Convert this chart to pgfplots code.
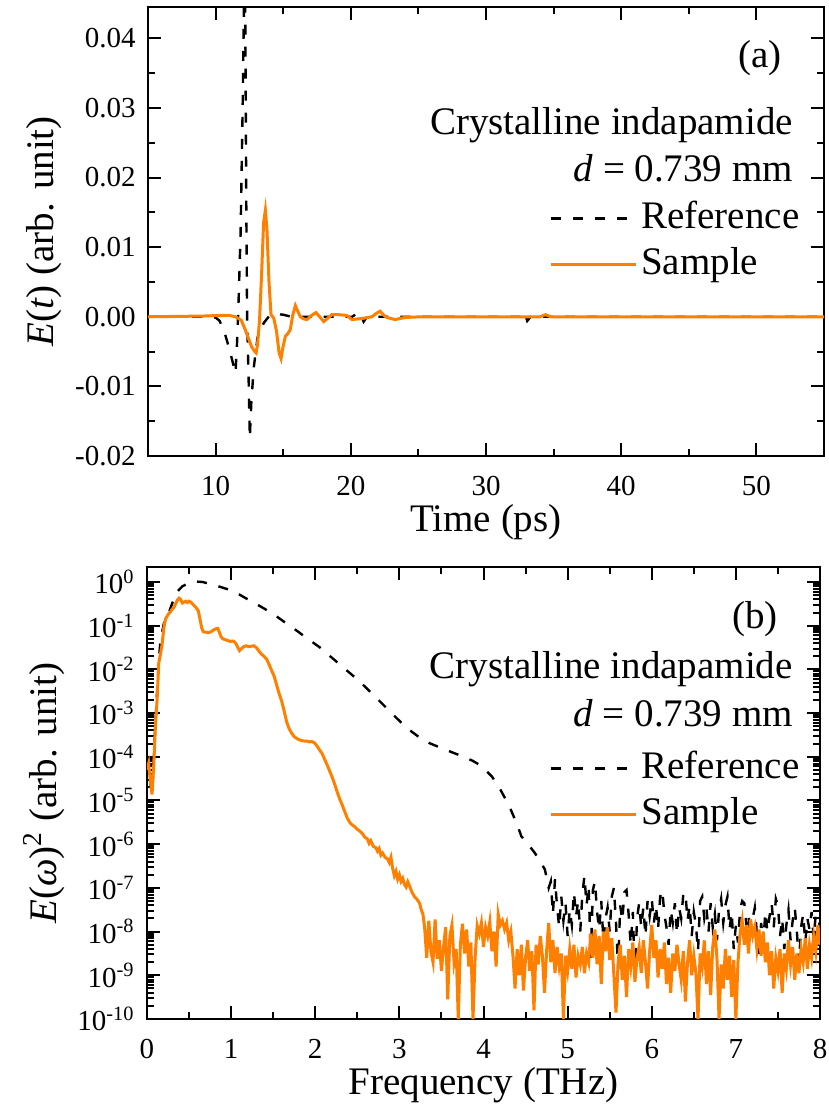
\documentclass[border=0pt]{standalone}
\usepackage{fontspec}
\setmainfont{Liberation Serif}
\usepackage{pgfplots}
\usepackage{pgfplotstable}
\pgfplotsset{compat=1.18}
\definecolor{smporange}{HTML}{FF7F00}

\newcommand{\tickfont}{\fontsize{14.5}{17}\selectfont}
\newcommand{\labfont}{\fontsize{19.5}{23}\selectfont}

% time domain (ps, arb. unit)
\pgfplotstableread{
t E
5.0 0
9.5 0
10.0 -0.0001
10.3 -0.0006
10.7 -0.0025
11.0 -0.0045
11.3 -0.0068
11.47 -0.0081
11.58 -0.0040
11.68 0.0010
11.85 0.0120
12.0 0.0300
12.12 0.0480
12.17 0.0520
12.27 0.0162
12.33 0.0000
12.45 -0.0096
12.53 -0.0174
12.65 -0.0120
12.83 -0.0072
13.1 -0.0030
13.56 -0.0009
14.0 0.0002
14.35 0.0004
15.0 0.0003
15.6 0.0000
20.1 0.0000
20.4 0.0004
20.6 0.0008
20.75 0.0002
20.95 -0.0007
21.2 0.0000
32.6 0.0000
32.85 0.0007
33.05 -0.0006
33.3 0.0000
55.0 0.0000
}\reftime

\pgfplotstableread{
t E
5.0 0
9.0 0.0001
10.5 0.0002
11.0 0.0002
11.47 0.0000
11.9 -0.0005
12.2 -0.0019
12.66 -0.0043
12.9 -0.0050
13.0 -0.0052
13.1 -0.0040
13.25 -0.0005
13.4 0.0060
13.55 0.0135
13.68 0.0153
13.8 0.0125
13.95 0.0050
14.1 0.0003
14.3 -0.0002
14.5 -0.0020
14.7 -0.0052
14.84 -0.0060
14.97 -0.0045
15.16 -0.0028
15.35 -0.0024
15.53 -0.0018
15.7 0.0002
15.9 0.0016
16.05 0.0009
16.27 0.0000
16.5 -0.0003
16.76 -0.0004
17.1 0.0002
17.42 0.0006
17.7 0.0000
18.0 -0.0007
18.3 -0.0002
18.6 0.0003
19.1 0.0003
19.7 0.0002
20.08 -0.0004
20.57 -0.0003
21.0 -0.0002
21.55 0.0000
21.9 0.0005
22.17 0.0008
22.4 0.0003
22.66 -0.0001
23.28 -0.0004
24.0 -0.0001
25.2 0.0000
34.0 0.0000
34.4 0.0003
34.8 0.0000
55.0 0.0000
}\smptime

% power spectra: f (THz), lg = log10 E(w)^2
\pgfplotstableread{
f lg
0.00 -4.35
0.02 -4.20
0.04 -4.60
0.06 -4.85
0.08 -4.10
0.10 -3.20
0.12 -2.50
0.14 -1.80
0.16 -1.35
0.20 -0.95
0.26 -0.70
0.32 -0.38
0.36 -0.22
0.42 -0.10
0.50 -0.02
0.58 0.01
0.66 0.00
0.72 -0.03
0.80 -0.07
0.90 -0.13
0.98 -0.18
1.10 -0.29
1.21 -0.41
1.35 -0.56
1.49 -0.72
1.63 -0.91
1.77 -1.10
1.91 -1.30
2.05 -1.49
2.19 -1.72
2.33 -1.95
2.47 -2.18
2.60 -2.41
2.72 -2.64
2.84 -2.87
2.96 -3.10
3.08 -3.33
3.22 -3.53
3.36 -3.69
3.50 -3.80
3.63 -3.90
3.75 -3.99
3.87 -4.09
3.95 -4.18
4.01 -4.28
4.10 -4.45
4.20 -4.75
4.30 -5.10
4.40 -5.55
4.45 -5.82
4.53 -6.00
4.61 -6.20
4.67 -6.38
4.73 -6.58
4.775 -7.00
4.800 -6.85
4.825 -7.60
4.850 -6.80
4.875 -7.45
4.900 -7.90
4.925 -7.20
4.950 -7.75
4.975 -7.35
5.000 -8.10
5.025 -7.50
5.050 -7.85
5.075 -7.10
5.100 -7.65
5.125 -7.30
5.150 -8.00
5.175 -7.15
5.200 -6.72
5.225 -7.40
5.250 -6.95
5.275 -8.60
5.300 -7.05
5.325 -6.85
5.350 -7.55
5.375 -7.95
5.400 -7.30
5.425 -8.20
5.450 -7.70
5.475 -7.45
5.500 -8.00
5.525 -7.20
5.550 -7.00
5.575 -7.80
5.600 -8.85
5.625 -7.40
5.650 -7.75
5.675 -7.10
5.700 -7.05
5.725 -7.60
5.750 -8.30
5.775 -7.55
5.800 -9.05
5.825 -7.70
5.850 -7.35
5.875 -7.90
5.900 -7.45
5.925 -8.10
5.950 -7.30
5.975 -7.65
6.000 -7.25
6.025 -7.80
6.050 -7.40
6.075 -7.95
6.100 -7.20
6.125 -7.05
6.150 -7.60
6.175 -7.90
6.200 -8.30
6.225 -7.50
6.250 -7.80
6.275 -7.35
6.300 -8.05
6.325 -7.45
6.350 -7.70
6.375 -7.15
6.400 -7.10
6.425 -7.75
6.450 -7.40
6.475 -8.10
6.500 -7.55
6.525 -7.85
6.550 -8.45
6.575 -7.30
6.600 -7.20
6.625 -7.70
6.650 -7.45
6.675 -8.00
6.700 -7.35
6.725 -7.90
6.750 -7.60
6.775 -8.20
6.800 -7.50
6.825 -7.25
6.850 -7.80
6.875 -7.40
6.900 -7.20
6.925 -7.95
6.950 -7.55
6.975 -8.40
7.000 -7.85
7.025 -8.25
7.050 -7.50
7.075 -7.30
7.100 -7.35
7.125 -7.85
7.150 -7.60
7.175 -8.15
7.200 -7.70
7.225 -7.45
7.250 -8.05
7.275 -8.60
7.300 -7.80
7.325 -8.30
7.350 -7.55
7.375 -8.00
7.400 -7.65
7.425 -7.35
7.450 -7.90
7.475 -7.25
7.500 -7.40
7.525 -8.10
7.550 -7.70
7.575 -8.40
7.600 -7.85
7.625 -7.50
7.650 -8.20
7.675 -7.75
7.700 -7.45
7.725 -8.00
7.750 -8.70
7.775 -7.90
7.800 -7.60
7.825 -8.25
7.850 -7.70
7.875 -7.95
7.900 -7.55
7.925 -8.15
7.950 -7.60
7.975 -7.65
8.000 -7.90
}\reffreq

\pgfplotstableread{
f lg
0.00 -4.30
0.02 -4.15
0.04 -4.55
0.06 -4.86
0.08 -4.20
0.10 -3.30
0.12 -2.70
0.14 -1.85
0.16 -1.65
0.18 -1.42
0.20 -1.05
0.22 -0.85
0.24 -0.78
0.26 -0.72
0.28 -0.68
0.30 -0.62
0.32 -0.58
0.34 -0.50
0.36 -0.42
0.38 -0.37
0.40 -0.40
0.42 -0.48
0.44 -0.46
0.46 -0.44
0.48 -0.47
0.50 -0.44
0.52 -0.46
0.55 -0.52
0.58 -0.58
0.61 -0.66
0.63 -0.85
0.65 -1.05
0.67 -1.14
0.70 -1.15
0.73 -1.16
0.76 -1.14
0.79 -1.10
0.82 -1.07
0.84 -1.06
0.86 -1.15
0.88 -1.25
0.90 -1.30
0.93 -1.32
0.96 -1.34
0.99 -1.36
1.02 -1.35
1.04 -1.37
1.06 -1.42
1.08 -1.50
1.10 -1.57
1.12 -1.53
1.15 -1.48
1.18 -1.46
1.21 -1.48
1.24 -1.47
1.27 -1.46
1.30 -1.50
1.33 -1.58
1.36 -1.65
1.39 -1.70
1.42 -1.76
1.45 -1.88
1.48 -2.02
1.51 -2.15
1.54 -2.35
1.57 -2.55
1.60 -2.72
1.63 -2.95
1.66 -3.20
1.69 -3.36
1.72 -3.46
1.75 -3.54
1.78 -3.58
1.81 -3.61
1.84 -3.63
1.87 -3.64
1.90 -3.64
1.93 -3.66
1.96 -3.65
1.99 -3.68
2.02 -3.75
2.05 -3.84
2.08 -3.92
2.11 -4.05
2.14 -4.18
2.17 -4.32
2.20 -4.46
2.23 -4.62
2.26 -4.80
2.29 -4.96
2.32 -5.10
2.35 -5.25
2.38 -5.40
2.41 -5.50
2.44 -5.56
2.47 -5.60
2.50 -5.66
2.53 -5.70
2.56 -5.76
2.59 -5.84
2.62 -5.88
2.64 -5.98
2.66 -5.92
2.69 -6.05
2.72 -6.08
2.74 -6.16
2.76 -6.10
2.78 -6.25
2.80 -6.20
2.83 -6.30
2.86 -6.34
2.88 -6.42
2.90 -6.30
2.92 -6.55
2.94 -6.72
2.96 -6.62
2.98 -6.80
3.00 -6.70
3.02 -6.85
3.04 -6.78
3.06 -6.92
3.08 -6.98
3.10 -6.86
3.12 -6.95
3.15 -7.10
3.18 -7.20
3.21 -7.26
3.24 -7.35
3.26 -7.50
3.28 -7.60
3.300 -7.90
3.325 -8.60
3.350 -7.75
3.375 -8.45
3.400 -8.70
3.425 -7.72
3.450 -8.62
3.475 -8.20
3.500 -8.90
3.525 -8.35
3.550 -7.90
3.575 -9.55
3.600 -8.10
3.625 -7.85
3.650 -8.70
3.675 -8.40
3.700 -10.0
3.725 -8.30
3.750 -7.82
3.775 -8.50
3.800 -7.95
3.825 -8.80
3.850 -8.25
3.875 -10.0
3.900 -8.60
3.925 -7.86
3.950 -8.05
3.975 -7.80
4.000 -8.35
4.025 -7.90
4.050 -8.10
4.075 -7.78
4.100 -8.45
4.125 -8.00
4.150 -8.80
4.175 -7.60
4.200 -7.85
4.225 -7.75
4.250 -7.95
4.275 -7.80
4.300 -8.20
4.325 -8.00
4.350 -8.55
4.375 -9.30
4.400 -8.40
4.425 -9.00
4.450 -8.30
4.475 -9.35
4.500 -8.60
4.525 -8.20
4.550 -8.90
4.575 -8.45
4.600 -9.80
4.625 -8.30
4.650 -8.75
4.675 -8.10
4.700 -8.55
4.725 -9.40
4.750 -8.45
4.775 -7.80
4.800 -8.70
4.825 -8.20
4.850 -8.95
4.875 -8.35
4.900 -8.80
4.925 -8.50
4.950 -10.0
4.975 -8.55
5.000 -8.90
5.025 -8.40
5.050 -8.85
5.075 -8.30
5.100 -9.05
5.125 -8.55
5.150 -8.75
5.175 -8.35
5.200 -8.95
5.225 -8.50
5.250 -8.70
5.275 -8.05
5.300 -8.60
5.325 -7.95
5.350 -8.75
5.375 -8.10
5.400 -9.20
5.425 -8.00
5.450 -8.45
5.475 -7.90
5.500 -8.65
5.525 -8.15
5.550 -9.00
5.575 -9.85
5.600 -8.70
5.625 -8.30
5.650 -9.10
5.675 -8.55
5.700 -9.50
5.725 -8.40
5.750 -8.80
5.775 -8.25
5.800 -9.15
5.825 -8.60
5.850 -8.35
5.875 -8.95
5.900 -8.20
5.925 -8.70
5.950 -9.30
5.975 -8.45
6.000 -7.85
6.025 -8.60
6.050 -8.20
6.075 -9.05
6.100 -8.40
6.125 -8.85
6.150 -8.25
6.175 -9.20
6.200 -8.60
6.225 -9.40
6.250 -8.50
6.275 -8.90
6.300 -8.30
6.325 -8.75
6.350 -9.10
6.375 -8.45
6.400 -9.60
6.425 -8.70
6.450 -8.20
6.475 -9.00
6.500 -8.55
6.525 -8.95
6.550 -10.0
6.575 -8.50
6.600 -8.80
6.625 -8.20
6.650 -9.20
6.675 -8.45
6.700 -9.45
6.725 -8.35
6.750 -7.95
6.775 -8.60
6.800 -10.0
6.825 -8.75
6.850 -9.30
6.875 -8.40
6.900 -9.10
6.925 -8.55
6.950 -9.50
6.975 -8.65
7.000 -10.0
7.025 -8.70
7.050 -8.05
7.075 -7.75
7.100 -8.30
7.125 -7.85
7.150 -8.50
7.175 -7.72
7.200 -8.10
7.225 -7.90
7.250 -8.40
7.275 -7.95
7.300 -8.55
7.325 -8.00
7.350 -8.70
7.375 -8.25
7.400 -9.00
7.425 -8.45
7.450 -9.30
7.475 -8.60
7.500 -8.90
7.525 -8.40
7.550 -9.40
7.575 -8.50
7.600 -8.85
7.625 -8.20
7.650 -8.75
7.675 -8.35
7.700 -9.10
7.725 -8.50
7.750 -8.95
7.775 -8.40
7.800 -8.70
7.825 -8.15
7.850 -8.85
7.875 -8.30
7.900 -8.60
7.925 -8.10
7.950 -8.45
7.975 -7.85
8.000 -8.30
}\smpfreq

\pgfplotsset{
  thz/.style={
    scale only axis,
    axis line style={line width=1.1pt},
    tick style={black, line width=1pt},
    major tick length=6.5pt, minor tick length=3.5pt,
    tick align=inside,
    every tick label/.append style={font=\tickfont},
    xticklabel style={yshift=-6.5pt},
    yticklabel style={xshift=-2.7pt},
    label style={font=\labfont},
    xlabel style={at={(axis description cs:0.5,0)}, anchor=center, yshift=-33pt},
    ylabel style={at={(axis description cs:-0.153,0.5)}, anchor=center},
    legend cell align=left,
    legend image code/.code={\draw[##1] (0pt,0pt) -- (42.5pt,0pt);},
    legend style={draw=none, fill=none, inner sep=0pt, row sep=1pt, font=\labfont,
      nodes={inner sep=2pt, text height=14pt, text depth=4pt},
      /tikz/every even column/.append style={column sep=3pt}},
  },
  refline/.style={black, line width=1.2pt, dash pattern=on 5pt off 6pt},
  smpline/.style={smporange, line width=1.5pt},
}

\begin{document}
\begin{tikzpicture}
\begin{axis}[thz,
  name=top,
  at={(0pt,0pt)}, anchor=south west,
  width=338pt, height=224.5pt,
  xmin=5, xmax=55, ymin=-0.02, ymax=0.0445,
  xtick={10,20,30,40,50}, minor x tick num=1,
  ytick={-0.02,-0.01,0,0.01,0.02,0.03,0.04}, minor y tick num=1,
  scaled y ticks=false,
  /pgf/number format/assume math mode=true,
  yticklabel style={/pgf/number format/.cd, fixed, fixed zerofill, precision=2},
  xlabel={Time (ps)},
  ylabel={\textit{E}(\textit{t}) (arb. unit)},
  legend style={at={(rel axis cs:0.970,0.579)}, anchor=north east},
]
\addplot[refline] table[x=t, y=E] {\reftime};
\addlegendentry{Reference}
\addplot[smpline] table[x=t, y=E] {\smptime};
\addlegendentry{Sample}
\node[anchor=base east, font=\labfont] at (rel axis cs:0.948,0.866) {(a)};
\node[anchor=base east, font=\labfont] at (rel axis cs:0.9645,0.715) {Crystalline indapamide};
\node[anchor=base east, font=\labfont] at (rel axis cs:0.9645,0.612) {\textit{d} = 0.739 mm};
\end{axis}

\begin{axis}[thz,
  at={(-0.5pt,-281.5pt)}, anchor=south west,
  width=336.5pt, height=226pt,
  ymode=log,
  xmin=0, xmax=8, ymin=1e-10, ymax=2.2,
  xtick={0,1,...,8}, minor x tick num=1,
  ytickten={-10,...,0},
  /pgf/number format/assume math mode=true,
  yticklabel={10\textsuperscript{\pgfmathparse{int(round(\tick/2.302585093))}\pgfmathresult}},
  xlabel={Frequency (THz)},
  ylabel={\textit{E}(\textit{ω})\textsuperscript{2} (arb. unit)},
  legend style={at={(rel axis cs:0.976,0.604)}, anchor=north east},
]
\addplot[refline] table[x=f, y expr={exp(2.302585093*\thisrow{lg})}] {\reffreq};
\addlegendentry{Reference}
\addplot[smpline] table[x=f, y expr={exp(2.302585093*\thisrow{lg})}] {\smpfreq};
\addlegendentry{Sample}
\node[anchor=base east, font=\labfont] at (rel axis cs:0.948,0.863) {(b)};
\node[anchor=base east, font=\labfont] at (rel axis cs:0.970,0.754) {Crystalline indapamide};
\node[anchor=base east, font=\labfont] at (rel axis cs:0.970,0.648) {\textit{d} = 0.739 mm};
\end{axis}
\pgfresetboundingbox
\path[use as bounding box] (-74pt,228pt) rectangle (340.5pt,-326.5pt);
\end{tikzpicture}
\end{document}
